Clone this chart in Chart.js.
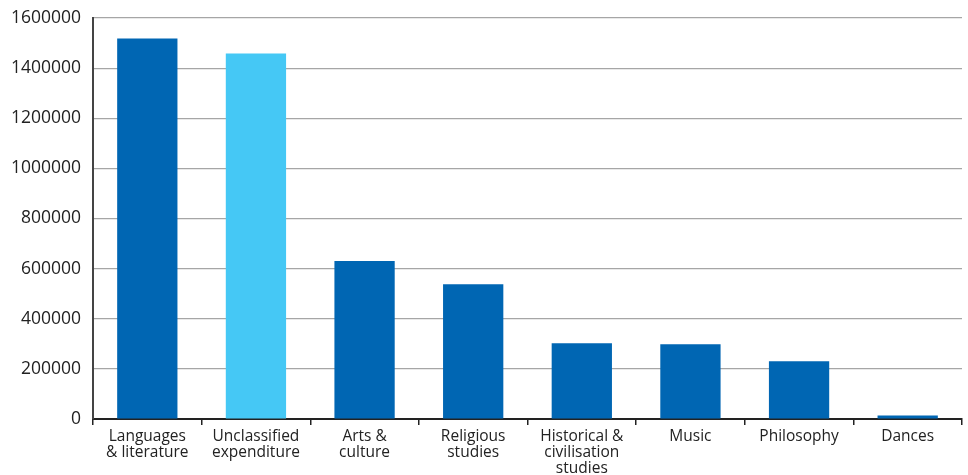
<!DOCTYPE html>
<html>
<head>
<meta charset="utf-8">
<script src="https://cdn.jsdelivr.net/npm/chart.js@4"></script>
<style>
  html, body { margin: 0; padding: 0; background: #fff; }
  #wrap { width: 968px; height: 475px; position: relative; }
</style>
</head>
<body>
<div id="wrap"><canvas id="chart"></canvas></div>
<script>
const categories = [
    ['Languages', '& literature'],
    ['Unclassified', 'expenditure'],
    ['Arts &', 'culture'],
    ['Religious', 'studies'],
    ['Historical &', 'civilisation', 'studies'],
    'Music',
    'Philosophy',
    'Dances'
];
const expenditure = [1518000, 1458000, 630000, 538000, 302000, 298000, 230000, 14000];
const barColors = ['#0066b3', '#45c8f5', '#0066b3', '#0066b3', '#0066b3', '#0066b3', '#0066b3', '#0066b3'];
const yTicks = { min: 0, max: 1600000, step: 200000 };

const fontFamily = '"Open Sans", "Noto Sans", sans-serif';

new Chart(document.getElementById('chart'), {
    type: 'bar',
    data: {
        labels: categories,
        datasets: [{
            data: expenditure,
            backgroundColor: barColors,
            borderWidth: 0,
            barPercentage: 0.555,
            categoryPercentage: 1
        }]
    },
    options: {
        responsive: true,
        maintainAspectRatio: false,
        animation: false,
        layout: { padding: { top: 18, right: 6, left: 0, bottom: 0 } },
        plugins: {
            legend: { display: false },
            tooltip: { enabled: false }
        },
        scales: {
            x: {
                afterFit: (axis) => { axis.height = 56; },
                grid: {
                    offset: true,
                    drawOnChartArea: false,
                    drawTicks: true,
                    tickLength: 6,
                    color: '#222',
                    lineWidth: 1.5
                },
                border: { color: '#222', width: 2 },
                ticks: {
                    color: '#222',
                    font: { family: fontFamily, size: 15.5, lineHeight: 1.05 },
                    maxRotation: 0,
                    autoSkip: false,
                    padding: 3
                }
            },
            y: {
                min: yTicks.min,
                max: yTicks.max,
                afterFit: (axis) => {
                    axis.width = 93;
                    axis.paddingTop = 0;
                    axis.paddingBottom = 0;
                },
                grid: {
                    color: '#a6a6a6',
                    lineWidth: 1.2,
                    drawTicks: false
                },
                border: { color: '#444', width: 2 },
                ticks: {
                    stepSize: yTicks.step,
                    color: '#222',
                    padding: 12,
                    font: { family: fontFamily, size: 17.5 },
                    callback: (v) => String(v)
                }
            }
        }
    }
});
</script>
</body>
</html>
